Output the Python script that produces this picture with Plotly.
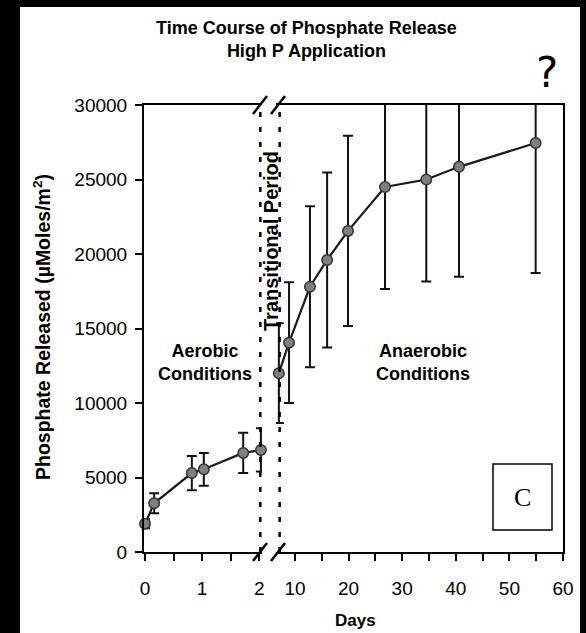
import plotly.graph_objects as go

# ---------------- data ----------------
aerobic_days = [0, 0.16, 0.82, 1.03, 1.72, 2.03]
aerobic_vals = [1900, 3270, 5300, 5550, 6650, 6850]
aerobic_err = [300, 670, 1150, 1100, 1350, 1450]

anaerobic_days = [7.0, 8.9, 12.8, 16.0, 19.9, 26.8, 34.5, 40.6, 54.9]
anaerobic_vals = [12000, 14050, 17800, 19600, 21550, 24500, 25000, 25850, 27450]
anaerobic_err = [3350, 4050, 5400, 5870, 6380, 6850, 6850, 7380, 8730]

left_tickvals = [0, 1, 2]
left_ticktext = ["0", "1", "2"]
right_tickvals = [10, 20, 30, 40, 50, 60]
right_ticktext = ["10", "20", "30", "40", "50", "60"]
y_tickvals = [0, 5000, 10000, 15000, 20000, 25000, 30000]
y_ticktext = ["0", "5000", "10000", "15000", "20000", "25000", "30000"]

# ---------------- layout geometry (pixels) ----------------
W, H = 586, 633
PL, PR, PT, PB = 144, 563, 105, 552


def px(p):
    return (p - PL) / (PR - PL)


def py(p):
    return (PB - p) / (PB - PT)


FONT = "Liberation Sans"
LINE = "#1a1a1a"

fig = go.Figure()


def add_series(xs, ys, es, xa, ya):
    fig.add_trace(go.Scatter(
        x=xs, y=ys, xaxis=xa, yaxis=ya, mode="lines",
        line=dict(color=LINE, width=2.2),
        error_y=dict(type="data", array=es, visible=True, color="#111111",
                     thickness=2, width=5),
        hoverinfo="skip", showlegend=False,
    ))
    fig.add_trace(go.Scatter(
        x=xs, y=ys, xaxis=xa, yaxis=ya, mode="markers",
        marker=dict(size=10.5, color="#7f7f7f", line=dict(color="#333333", width=1.5)),
        cliponaxis=False, showlegend=False,
    ))


add_series(aerobic_days, aerobic_vals, aerobic_err, "x", "y")
add_series(anaerobic_days, anaerobic_vals, anaerobic_err, "x2", "y2")

axis_common = dict(
    showline=True, linecolor="black", linewidth=2,
    ticks="outside", ticklen=7, tickwidth=2, tickcolor="black",
    showgrid=False, zeroline=False,
    tickfont=dict(family=FONT, size=19, color="black"),
)

left_end = 262
right_start = 276
fig.update_layout(
    width=W, height=H,
    margin=dict(l=PL, r=W - PR, t=PT, b=H - PB),
    paper_bgcolor="white", plot_bgcolor="white",
    showlegend=False,
    xaxis=dict(domain=[0, px(left_end)], range=[(PL - 145) / 57.1, (left_end - 145) / 57.1],
               tickvals=left_tickvals, ticktext=left_ticktext, mirror=True,
               minor=dict(ticks="outside", ticklen=7, tickwidth=2, tickcolor="black",
                          tick0=0, dtick=0.5, showgrid=False),
               anchor="y", ticklabelstandoff=11, **axis_common),
    xaxis2=dict(domain=[px(right_start), 1],
                range=[(right_start - 241.3) / 5.366, 60],
                tickvals=right_tickvals, ticktext=right_ticktext, mirror=True,
                minor=dict(ticks="outside", ticklen=7, tickwidth=2, tickcolor="black",
                           tick0=0, dtick=5, showgrid=False),
                anchor="y2", ticklabelstandoff=11, **axis_common),
    yaxis=dict(range=[0, 30000], tickvals=y_tickvals, ticktext=y_ticktext, anchor="x",
               ticklabelstandoff=4, **axis_common),
    yaxis2=dict(range=[0, 30000], matches="y", anchor="x2", side="right",
                showline=True, linecolor="black", linewidth=2, ticks="",
                showticklabels=False, showgrid=False, zeroline=False),
)

shapes = []
# dotted transition lines
shapes.append(dict(type="line", xref="x", yref="y", x0=2.02, x1=2.02, y0=0, y1=30000,
                   line=dict(color="black", width=2.5, dash="5px,10px")))
shapes.append(dict(type="line", xref="x2", yref="y", x0=7.15, x1=7.15, y0=0, y1=30000,
                   line=dict(color="black", width=2.5, dash="5px,10px")))
# axis break slashes
for cx in (260, 278):
    for cy in (PT, PB):
        shapes.append(dict(type="line", xref="paper", yref="paper",
                           x0=px(cx - 7), y0=py(cy + 9), x1=px(cx + 7), y1=py(cy - 9),
                           line=dict(color="black", width=2.5)))
# panel label box
shapes.append(dict(type="rect", xref="paper", yref="paper",
                   x0=px(493), x1=px(552), y0=py(530), y1=py(464),
                   line=dict(color="black", width=1.5), fillcolor="white"))
# black scan border
for (x0, x1, y0, y1) in [(0, 20, 0, H), (0, W, 0, 7), (580, W, 0, H)]:
    shapes.append(dict(type="rect", xref="paper", yref="paper",
                       x0=px(x0), x1=px(x1), y0=py(y1), y1=py(y0),
                       line=dict(width=0), fillcolor="black", layer="above"))
fig.update_layout(shapes=shapes)

bold = dict(family=FONT, size=18, color="black", weight="bold")
ann = []


def add_text(text, x, y, font, angle=0, xanchor="center"):
    ann.append(dict(text=text, x=px(x), y=py(y), xref="paper", yref="paper",
                    showarrow=False, font=font, textangle=angle,
                    xanchor=xanchor, yanchor="middle", align="center"))


add_text("Time Course of Phosphate Release<br>High P Application", 306, 39, bold)
add_text("Days", 355, 620, dict(bold, size=17))
add_text("Phosphate Released (µMoles/m<sup>2</sup>)", 42, 327, dict(bold, size=19.5), angle=-90)
add_text("Aerobic<br>Conditions", 205, 362, bold)
add_text("Anaerobic<br>Conditions", 423, 362, bold)
add_text("Transitional Period", 271, 241, dict(bold, size=20), angle=-90)
add_text("C", 522, 497, dict(family="Liberation Serif", size=26, color="black"))
add_text("?", 547, 72, dict(family="DejaVu Sans", size=42, color="black", weight="normal"))
fig.update_layout(annotations=ann)

fig.write_html("out.html")
